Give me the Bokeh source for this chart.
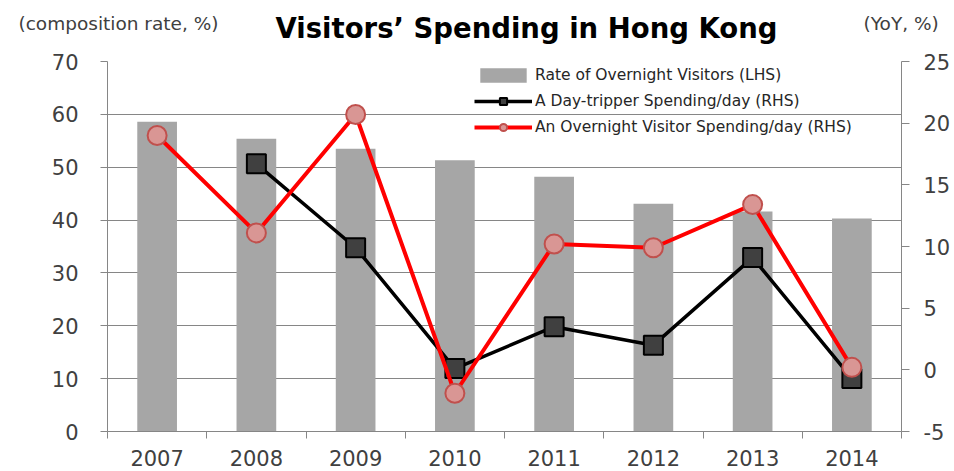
import math
from bokeh.plotting import figure
from bokeh.layouts import column
from bokeh.models import (Range1d, LinearAxis, FixedTicker, Legend, LegendItem,
                          ColumnDataSource)
from bokeh.core.properties import value
from bokeh.embed import file_html
from bokeh.resources import INLINE

# ---- data ----
years = ["2007", "2008", "2009", "2010", "2011", "2012", "2013", "2014"]
overnight_rate = [58.6, 55.4, 53.5, 51.3, 48.2, 43.1, 41.6, 40.3]          # LHS, %
daytripper_yoy = [math.nan, 16.7, 9.9, 0.1, 3.5, 2.0, 9.1, -0.7]           # RHS, YoY %
overnight_yoy = [19.0, 11.1, 20.7, -1.9, 10.2, 9.9, 13.4, 0.2]             # RHS, YoY %
left_ticks = [0, 10, 20, 30, 40, 50, 60, 70]
right_ticks = [-5, 0, 5, 10, 15, 20, 25]
title_text = "Visitors’ Spending in Hong Kong"
left_unit = "(composition rate, %)"
right_unit = "(YoY, %)"

FONT = "DejaVu Sans"
AXIS_GRAY = "#868686"
TXT = "#404040"

W = 954
HEAD_H = 50
FL, FR = 107, 901          # frame left / right (page px)

# ---- header (title + unit labels) ----
head = figure(width=W, height=HEAD_H, x_range=Range1d(FL, FR), y_range=Range1d(HEAD_H, 0),
              min_border_left=FL, min_border_right=W - FR, min_border_top=0,
              min_border_bottom=0, x_axis_type=None, y_axis_type=None,
              output_backend="svg", toolbar_location=None,
              background_fill_color="white", border_fill_color="white")
head.outline_line_color = None
head.xgrid.grid_line_color = None
head.ygrid.grid_line_color = None
head.text(x=[526], y=[27], text=[title_text], text_font=value(FONT),
          text_font_size="27.5px", text_font_style="bold", text_color="#000000",
          text_align="center", text_baseline="middle")

unit_y = 23
for side, label, standoff in (("left", left_unit, -111), ("right", right_unit, -38)):
    ax = LinearAxis(ticker=FixedTicker(ticks=[unit_y]),
                    major_label_overrides={unit_y: label})
    ax.axis_line_color = None
    ax.major_tick_line_color = None
    ax.minor_tick_line_color = None
    ax.major_tick_out = 0
    ax.major_tick_in = 0
    ax.major_label_standoff = standoff
    ax.major_label_text_font = FONT
    ax.major_label_text_font_size = "18.5px"
    ax.major_label_text_color = TXT
    head.add_layout(ax, side)

# ---- main chart ----
x_centers = [i + 0.5 for i in range(len(years))]
x_bounds = [i for i in range(len(years) + 1)]

src = ColumnDataSource(dict(x=x_centers, rate=overnight_rate,
                            day=daytripper_yoy, night=overnight_yoy))

FH = 370
p = figure(frame_width=FR - FL, frame_height=FH,
           min_border_left=FL, min_border_right=W - FR, min_border_top=61 - HEAD_H,
           min_border_bottom=40,
           x_range=Range1d(0, len(years)), y_range=Range1d(left_ticks[0], left_ticks[-1]),
           output_backend="svg", toolbar_location=None,
           background_fill_color="white", border_fill_color="white")
p.outline_line_color = None
p.extra_y_ranges = {"right": Range1d(right_ticks[0], right_ticks[-1])}

# bars (LHS)
bars = p.vbar(x="x", top="rate", bottom=0, width=0.4, source=src,
              fill_color="#a6a6a6", line_color=None)

# day tripper (RHS)
l1 = p.line(x="x", y="day", source=src, y_range_name="right",
            line_color="#000000", line_width=3.5)
s1 = p.scatter(x="x", y="day", source=src, y_range_name="right", marker="square",
               size=19, fill_color="#404040", line_color="#000000", line_width=2)

# overnight visitor (RHS)
l2 = p.line(x="x", y="night", source=src, y_range_name="right",
            line_color="#ff0000", line_width=4)
s2 = p.scatter(x="x", y="night", source=src, y_range_name="right", marker="circle",
               size=19, fill_color="#d99694", line_color="#c0504d", line_width=2)

# axes
xa = p.xaxis[0]
xa.ticker = FixedTicker(ticks=x_centers, minor_ticks=x_bounds)
xa.major_label_overrides = {c: y for c, y in zip(x_centers, years)}
xa.major_tick_line_color = None
xa.major_tick_out = 0
xa.major_tick_in = 0
xa.minor_tick_line_color = AXIS_GRAY
xa.minor_tick_out = 7
xa.minor_tick_in = 0
xa.axis_line_color = AXIS_GRAY
xa.major_label_text_font = FONT
xa.major_label_text_font_size = "21px"
xa.major_label_text_color = TXT
xa.major_label_standoff = 11

ya = p.yaxis[0]
ya.ticker = FixedTicker(ticks=left_ticks)
ya.axis_line_color = AXIS_GRAY
ya.major_tick_line_color = AXIS_GRAY
ya.major_tick_out = 7
ya.major_tick_in = 0
ya.minor_tick_line_color = None
ya.major_label_text_font = FONT
ya.major_label_text_font_size = "21px"
ya.major_label_text_color = TXT
ya.major_label_standoff = 22

ra = LinearAxis(y_range_name="right", ticker=FixedTicker(ticks=right_ticks))
ra.axis_line_color = AXIS_GRAY
ra.major_tick_line_color = AXIS_GRAY
ra.major_tick_out = 8
ra.major_tick_in = 0
ra.minor_tick_line_color = None
ra.major_label_text_font = FONT
ra.major_label_text_font_size = "21px"
ra.major_label_text_color = TXT
ra.major_label_standoff = 14
ra.major_label_overrides = {t: str(t) for t in right_ticks}
p.add_layout(ra, "right")

p.xgrid.grid_line_color = None
p.ygrid.grid_line_color = AXIS_GRAY
p.ygrid.grid_line_width = 1
p.ygrid.ticker = FixedTicker(ticks=left_ticks)

# legend
legend = Legend(items=[
    LegendItem(label="Rate of Overnight Visitors (LHS)", renderers=[bars]),
    LegendItem(label="A Day-tripper Spending/day (RHS)", renderers=[l1, s1]),
    LegendItem(label="An Overnight Visitor Spending/day (RHS)", renderers=[l2, s2]),
], location=(367, FH - 75))
legend.background_fill_alpha = 0
legend.border_line_color = None
legend.padding = 0
legend.margin = 0
legend.spacing = 8
legend.glyph_width = 58
legend.glyph_height = 18
legend.label_height = 18
legend.label_standoff = 3
legend.label_text_font = FONT
legend.label_text_font_size = "15.5px"
legend.label_text_color = "#262626"
p.add_layout(legend)

layout = column(head, p, spacing=0)
open("out.html", "w").write(file_html(layout, INLINE))
